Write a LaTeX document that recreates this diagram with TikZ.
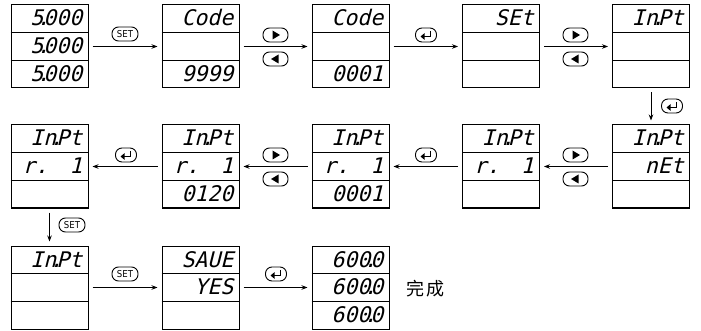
\documentclass[tikz,border=0pt]{standalone}
\usepackage{fontspec}
\newfontfamily\lcd{DejaVu Sans Mono}[FakeSlant=0.25]
\newfontfamily\cjk{Noto Sans CJK SC}
\newfontfamily\btnfont{DejaVu Sans Condensed}
\usetikzlibrary{arrows.meta,calc}
\newcommand\lcdpt{\kern-.3em.\kern-.3em}
\tikzset{
  dispbox/.style={draw, line width=1pt, minimum width=77pt, minimum height=83pt, inner sep=0pt},
  divline/.style={line width=1pt},
  lcdtext/.style={anchor=base east, inner sep=0pt, font=\lcd\fontsize{21.5}{21.5}\selectfont},
  flow/.style={-{Stealth[length=6pt,width=4.5pt]}, line width=0.8pt, shorten <=4pt, shorten >=4pt},
  btn/.style={draw, line width=0.9pt, rounded corners=6.5pt, minimum width=25pt, minimum height=14pt, inner sep=0pt},
  entbtn/.style={btn, minimum width=21pt},
  setbtnstyle/.style={btn, minimum width=26pt, inner xsep=2pt, font=\btnfont\fontsize{9.5}{9.5}\selectfont},
}
\newcommand\mydisp[3]{%
  \node[dispbox] (#1) at (#2,#3) {};
  \draw[divline] ($(#1.north west)+(0,28)$) -- ($(#1.north east)+(0,28)$);
  \draw[divline] ($(#1.north west)+(0,56)$) -- ($(#1.north east)+(0,56)$);
}
% name, row (1..3), text
\newcommand\lcdline[3]{%
  \node[lcdtext] (#1-#2) at ($(#1.north east)+(-6,{(#2-1)*27.8+21.5})$) {#3};
}
\newcommand\rone{\makebox[60pt][s]{r.\hfill 1}}
\newcommand\setbtn[2]{\node[setbtnstyle] (#1) at (#2) {SET};}
\newcommand\rbtn[2]{\node[btn] (#1) at (#2) {};
  \fill ($(#1.center)+(-3,-4.5)$) -- ($(#1.center)+(4.5,0)$) -- ($(#1.center)+(-3,4.5)$) -- cycle;}
\newcommand\lbtn[2]{\node[btn] (#1) at (#2) {};
  \fill ($(#1.center)+(3,-4.5)$) -- ($(#1.center)+(-4.5,0)$) -- ($(#1.center)+(3,4.5)$) -- cycle;}
\newcommand\entbtn[2]{\node[entbtn] (#1) at (#2) {};
  \draw[line width=1pt] ($(#1.center)+(4.5,-4)$) -- ($(#1.center)+(4.5,1.5)$) -- ($(#1.center)+(-2,1.5)$);
  \fill ($(#1.center)+(-5.5,1.5)$) -- ($(#1.center)+(-1.5,-1.8)$) -- ($(#1.center)+(-1.5,4.8)$) -- cycle;}
\begin{document}
\begin{tikzpicture}[x=1pt,y=-1pt]
\useasboundingbox (0,0) rectangle (701,331);
% row 1
\mydisp{b11}{49.5}{46.5}
\lcdline{b11}{1}{5\lcdpt000}\lcdline{b11}{2}{5\lcdpt000}\lcdline{b11}{3}{5\lcdpt000}
\mydisp{b12}{200.5}{46.5}
\lcdline{b12}{1}{Code}\lcdline{b12}{3}{9999}
\mydisp{b13}{350.5}{46.5}
\lcdline{b13}{1}{Code}\lcdline{b13}{3}{0001}
\mydisp{b14}{501}{46.5}
\lcdline{b14}{1}{SEt}
\mydisp{b15}{651}{46.5}
\lcdline{b15}{1}{In\lcdpt Pt}
% row 2
\mydisp{b25}{651}{166.5}
\lcdline{b25}{1}{In\lcdpt Pt}\lcdline{b25}{2}{nEt}
\mydisp{b24}{501}{166.5}
\lcdline{b24}{1}{In\lcdpt Pt}\lcdline{b24}{2}{\rone}
\mydisp{b23}{350.5}{166.5}
\lcdline{b23}{1}{In\lcdpt Pt}\lcdline{b23}{2}{\rone}\lcdline{b23}{3}{0001}
\mydisp{b22}{200.5}{166.5}
\lcdline{b22}{1}{In\lcdpt Pt}\lcdline{b22}{2}{\rone}\lcdline{b22}{3}{0120}
\mydisp{b21}{49.5}{166.5}
\lcdline{b21}{1}{In\lcdpt Pt}\lcdline{b21}{2}{\rone}
% row 3
\mydisp{b31}{49.5}{287.5}
\lcdline{b31}{1}{In\lcdpt Pt}
\mydisp{b32}{200.5}{287.5}
\lcdline{b32}{1}{SAUE}\lcdline{b32}{2}{YES}
\mydisp{b33}{350.5}{287.5}
\lcdline{b33}{1}{600\lcdpt 0}\lcdline{b33}{2}{600\lcdpt 0}\lcdline{b33}{3}{600\lcdpt 0}
\node[font=\cjk\fontsize{18}{18}\selectfont, inner sep=0pt] (done) at (425,289) {完\kern2pt 成};
% arrows
\draw[flow] (b11) -- (b12);
\draw[flow] (b12) -- (b13);
\draw[flow] (b13) -- (b14);
\draw[flow] (b14) -- (b15);
\draw[flow] (b15) -- (b25);
\draw[flow] (b25) -- (b24);
\draw[flow] (b24) -- (b23);
\draw[flow] (b23) -- (b22);
\draw[flow] (b22) -- (b21);
\draw[flow] (b21) -- (b31);
\draw[flow] (b31) -- (b32);
\draw[flow] (b32) -- (b33);
% buttons
\setbtn{k1}{125,34}
\rbtn{k2a}{275.5,35}\lbtn{k2b}{275.5,59}
\entbtn{k3}{426,35}
\rbtn{k4a}{575.5,35}\lbtn{k4b}{575.5,59}
\entbtn{k5}{672,106}
\rbtn{k6a}{575.5,155}\lbtn{k6b}{575.5,179}
\entbtn{k7}{426,155}
\rbtn{k8a}{275.5,155}\lbtn{k8b}{275.5,179}
\entbtn{k9}{126,155}
\setbtn{k10}{72,225}
\setbtn{k11}{125,274}
\entbtn{k12}{276,274}
\end{tikzpicture}
\end{document}
